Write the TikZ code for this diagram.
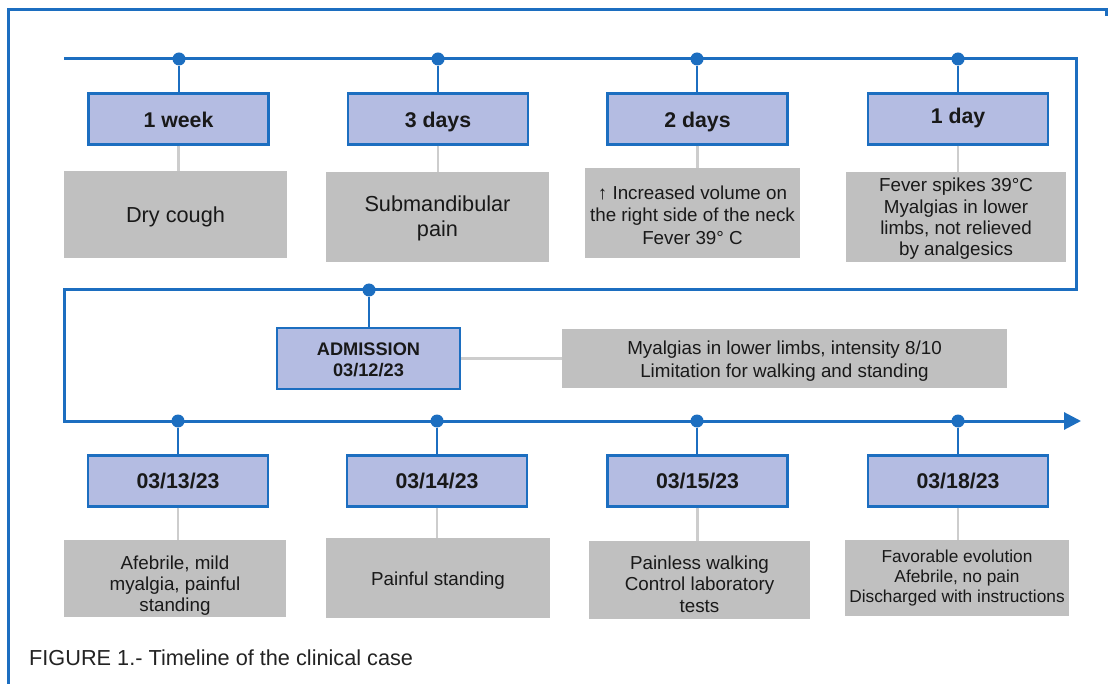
\documentclass[tikz,border=0pt]{standalone}
\usepackage{fontspec}
\setmainfont{Liberation Sans}
\usetikzlibrary{arrows.meta}
\definecolor{tblue}{RGB}{28,110,192}
\definecolor{bfill}{RGB}{180,188,226}
\definecolor{gfill}{RGB}{192,192,192}
\definecolor{gline}{RGB}{205,205,205}
\definecolor{txt}{RGB}{25,25,25}
\begin{document}
\begin{tikzpicture}[x=1pt,y=-1pt,
  tl/.style={draw=tblue,line width=3pt},
  frame/.style={draw=tblue,line width=3pt},
  dotn/.style={circle,fill=tblue,inner sep=0pt,minimum size=13pt},
  bbox/.style={draw=tblue,line width=2.4pt,fill=bfill,minimum width=180pt,minimum height=51pt,inner sep=0pt,text height=17pt,text depth=2.4pt,text=txt,font=\bfseries\fontsize{21.3}{25}\selectfont},
  topbox/.style={bbox,text height=18pt,text depth=0.6pt},
  abox/.style={draw=tblue,line width=2.4pt,fill=bfill,inner sep=0pt},
  gbox/.style={fill=gfill,inner sep=0pt},
  gtxt/.style={inner sep=0pt,text=txt,align=center,font=\fontsize{18.8}{21.5}\selectfont},
  stem/.style={draw=tblue,line width=2.6pt},
  gstem/.style={draw=gline,line width=2.2pt}]
\fill[white] (0,0) rectangle (1108,684);
\useasboundingbox (0,0) rectangle (1108,684);
% frame
\coordinate (f1) at (8,684);
\coordinate (f2) at (8,10);
\coordinate (f3) at (1106,10);
\coordinate (f4) at (1106,16);
\draw[frame] (f1) -- (f2) -- (f3) -- (f4);
% timeline corners
\coordinate (s) at (64,59);
\coordinate (c1) at (1076,59);
\coordinate (c2) at (1076,290);
\coordinate (c3) at (64,290);
\coordinate (c4) at (64,421);
\coordinate (e) at (1081,421);
\draw[tl,-{Triangle[length=17pt,width=17pt]}] (s) -- (c1) -- (c2) -- (c3) -- (c4) -- (e);
% dots
\node[dotn] (t1) at (179,59) {};
\node[dotn] (t2) at (438,59) {};
\node[dotn] (t3) at (697,59) {};
\node[dotn] (t4) at (958,59) {};
\node[dotn] (tm) at (369,290) {};
\node[dotn] (b1) at (178,421) {};
\node[dotn] (b2) at (437,421) {};
\node[dotn] (b3) at (697,421) {};
\node[dotn] (b4) at (958,421) {};
% top row
\node[topbox] (w1) at (178.5,119) {1 week};
\node[topbox] (w2) at (438,119) {3 days};
\node[topbox] (w3) at (697.5,119) {2 days};
\node[bbox,text height=14pt,text depth=4pt] (w4) at (958,119) {1 day};
\node[gbox,minimum width=223pt,minimum height=87pt] (g1) at (175.5,214.5) {};
\node[gtxt,font=\fontsize{21.7}{25}\selectfont] (g1t) at ([shift={(0,2)}]g1.center) {Dry cough};
\node[gbox,minimum width=223pt,minimum height=90pt] (g2) at (437.5,217) {};
\node[gtxt,font=\fontsize{21.7}{25}\selectfont] (g2t) at ([shift={(0,1)}]g2.center) {Submandibular\\pain};
\node[gbox,minimum width=215pt,minimum height=90pt] (g3) at (692.5,213) {};
\node[gtxt,font=\fontsize{18.8}{22.3}\selectfont] (g3t) at ([shift={(0,2)}]g3.center) {↑ Increased volume on\\the right side of the neck\\Fever 39° C};
\node[gbox,minimum width=220pt,minimum height=90pt] (g4) at (956,217) {};
\node[gtxt,font=\fontsize{18.8}{21.3}\selectfont] (g4t) at ([shift={(0,2)}]g4.center) {Fever spikes 39°C\\Myalgias in lower\\limbs, not relieved\\by analgesics};
% middle
\node[abox,minimum width=183pt,minimum height=61pt] (adm) at (368.5,358.5) {};
\node[gtxt,font=\bfseries\fontsize{18.2}{21}\selectfont] (admt) at ([shift={(0,1.5)}]adm.center) {ADMISSION\\03/12/23};
\node[gbox,minimum width=445pt,minimum height=59pt] (mya) at (784.5,358.5) {};
\node[gtxt,font=\fontsize{18.8}{23}\selectfont] (myat) at ([shift={(0,3)}]mya.center) {Myalgias in lower limbs, intensity 8/10\\Limitation for walking and standing};
% bottom row
\node[bbox] (d1) at (178,481) {03/13/23};
\node[bbox] (d2) at (437,481) {03/14/23};
\node[bbox] (d3) at (697.5,481) {03/15/23};
\node[bbox] (d4) at (958,481) {03/18/23};
\node[gbox,minimum width=222pt,minimum height=77pt] (h1) at (175,578.5) {};
\node[gtxt,font=\fontsize{18.8}{20.8}\selectfont] (h1t) at ([shift={(0,7)}]h1.center) {Afebrile, mild\\myalgia, painful\\standing};
\node[gbox,minimum width=224pt,minimum height=80pt] (h2) at (438,578) {};
\node[gtxt] (h2t) at ([shift={(0,3)}]h2.center) {Painful standing};
\node[gbox,minimum width=221pt,minimum height=78pt] (h3) at (699.5,580) {};
\node[gtxt,font=\fontsize{18.8}{21.5}\selectfont] (h3t) at ([shift={(0,4)}]h3.center) {Painless walking\\Control laboratory\\tests};
\node[gbox,minimum width=224pt,minimum height=76pt] (h4) at (957,578) {};
\node[gtxt,font=\fontsize{17.3}{20}\selectfont] (h4t) at (h4.center) {Favorable evolution\\Afebrile, no pain\\Discharged with instructions};
% stems
\foreach \a/\b in {t1/w1,t2/w2,t3/w3,t4/w4,tm/adm,b1/d1,b2/d2,b3/d3,b4/d4}
  \draw[stem] (\a) -- (\a |- \b.north);
\foreach \a/\b in {w1/g1,w2/g2,w3/g3,w4/g4,d1/h1,d2/h2,d3/h3,d4/h4}
  \draw[gstem] (\a.south) -- (\a.south |- \b.north);
\draw[gstem] (adm.east) -- (mya.west);
% caption
\node[anchor=base west,inner sep=0pt,text={rgb,255:red,35;green,35;blue,35},font=\fontsize{21.7}{25}\selectfont] (cap) at (29,665) {FIGURE 1.- Timeline of the clinical case};
\end{tikzpicture}
\end{document}
